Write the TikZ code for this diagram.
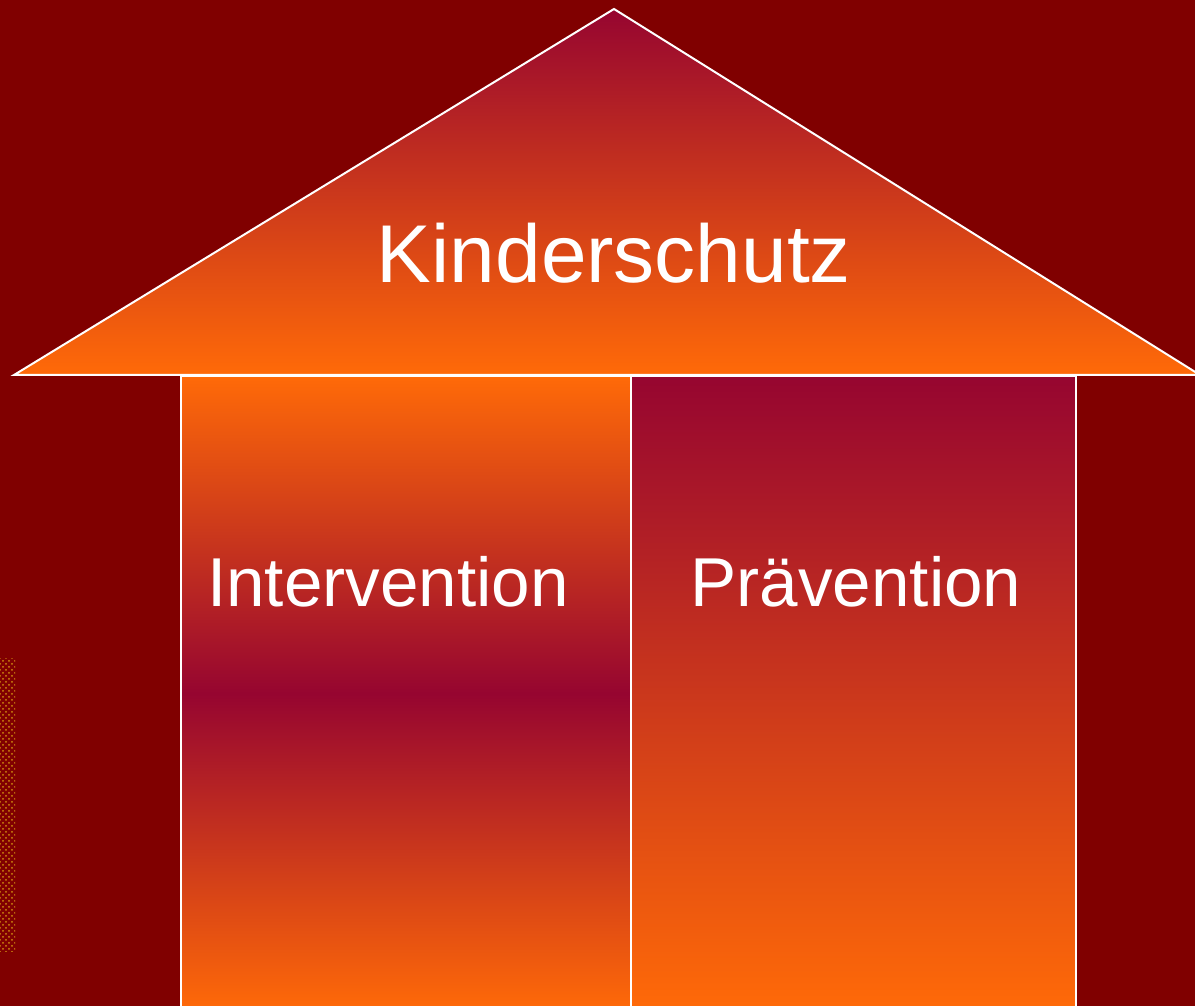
\documentclass[tikz,border=0pt]{standalone}
\usepackage{fontspec}
\setmainfont{Liberation Sans}
\usetikzlibrary{patterns}

\definecolor{bg}{HTML}{800000}
\definecolor{crim}{HTML}{960530}
\definecolor{orng}{HTML}{FF6A08}
\definecolor{dotc}{HTML}{D08A10}

\begin{document}
\begin{tikzpicture}[x=0.5pt, y=0.5pt,
  part/.style={draw=white, line width=1pt},
  label/.style={text=white, inner sep=0pt, anchor=center}]
\fill[bg] (0,0) rectangle (1195,1006);
\useasboundingbox (0,0) rectangle (1195,1006);
% Dach
\shade[part, top color=crim, bottom color=orng] (14,631) -- (614,997) -- (1200,631) -- cycle;
% Saeulen
\shade[part, top color=orng, bottom color=orng, middle color=crim] (181,-5) rectangle (631,630);
\shade[part, top color=crim, bottom color=orng] (631,-5) rectangle (1076,630);
% Rand links
\fill[pattern=crosshatch dots, pattern color=dotc] (0,54) rectangle (15,347);
\node[label, font=\fontsize{41}{41}\selectfont] (dach) at (614,753) {Kinderschutz};
\node[label, font=\fontsize{34.6}{35}\selectfont] (intervention) at (388,424) {Intervention};
\node[label, font=\fontsize{34.6}{35}\selectfont] (praevention) at (856,424) {Prävention};
\end{tikzpicture}
\end{document}
